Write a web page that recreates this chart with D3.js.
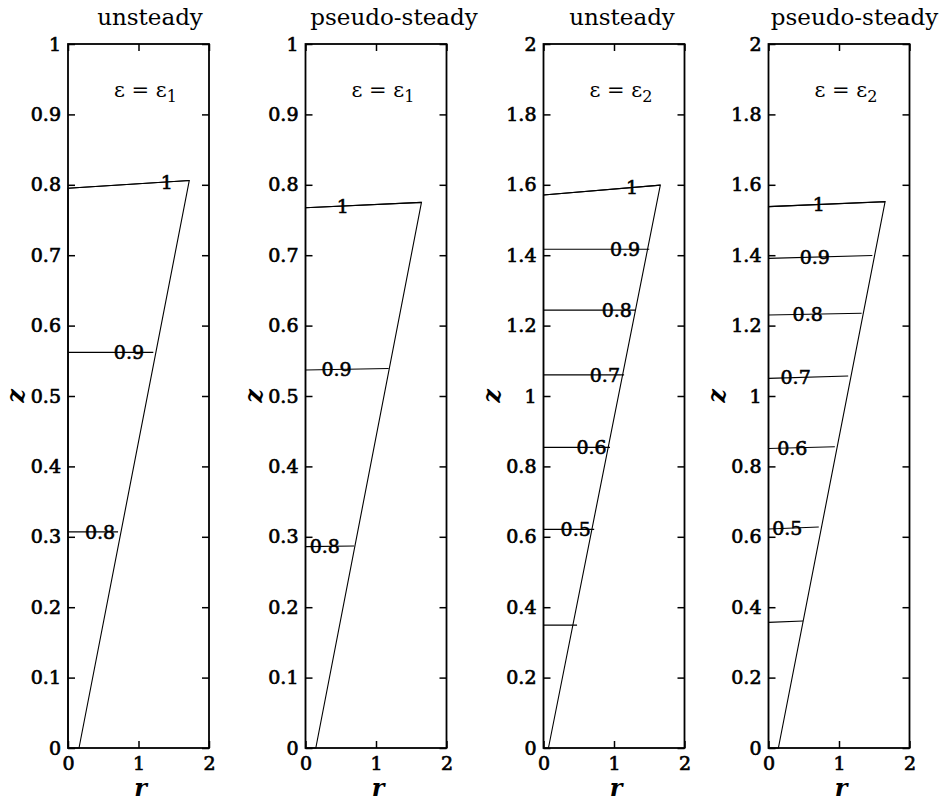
<!DOCTYPE html>
<html lang="en">
<head>
  <meta charset="utf-8">
  <script src="https://cdn.jsdelivr.net/npm/d3@7"></script>
  <style>
    body {
      margin: 0;
      background: #fff;
    }
    svg text {
      font-family: "DejaVu Serif", serif;
      fill: #000;
    }
    .tick text {
      font-size: 19px;
      stroke: #000;
      stroke-width: 0.7px;
    }
    .tick line {
      stroke: #000;
      stroke-width: 1.5px;
    }
    .frame {
      fill: none;
      stroke: #000;
      stroke-width: 1.8px;
    }
    .outline, .contour {
      fill: none;
      stroke: #000;
      stroke-width: 1.1px;
    }
    .clabel {
      font-size: 19px;
      stroke: #000;
      stroke-width: 0.6px;
    }
    .title {
      font-size: 23px;
    }
    .eps {
      font-size: 21px;
    }
    .axlabel {
      font-size: 24px;
      font-weight: bold;
      font-style: italic;
    }
  </style>
</head>
<body>
  <svg id="chart" width="942" height="802"></svg>
  <script>
    // panel headings
    var titles = ["unsteady", "pseudo-steady", "unsteady", "pseudo-steady"];
    var epsIndex = ["1", "1", "2", "2"];
    var zMax = [1, 1, 2, 2];

    // free surface / wall outline of each domain, [r, z]
    var outlineA = [[0, 0], [0.156, 0], [1.72, 0.806], [0, 0.795]];
    var outlineB = [[0, 0], [0.146, 0], [1.645, 0.775], [0, 0.7675]];
    var outlineC = [[0, 0], [0.07, 0], [1.657, 1.599], [0, 1.571]];
    var outlineD = [[0, 0], [0.14, 0], [1.654, 1.552], [0, 1.538]];

    // contour levels, their lines and where the label sits along r
    var contoursA = [
      {level: "1",   pts: [[0, 0.795], [1.72, 0.806]], labelR: 1.40},
      {level: "0.9", pts: [[0, 0.562], [1.21, 0.562]], labelR: 0.865},
      {level: "0.8", pts: [[0, 0.307], [0.71, 0.307]], labelR: 0.454}
    ];
    var contoursB = [
      {level: "1",   pts: [[0, 0.7675], [1.645, 0.775]], labelR: 0.53},
      {level: "0.9", pts: [[0, 0.537], [1.18, 0.539]], labelR: 0.44},
      {level: "0.8", pts: [[0, 0.286], [0.69, 0.287]], labelR: 0.274}
    ];
    var contoursC = [
      {level: "1",   pts: [[0, 1.571], [1.657, 1.599]], labelR: 1.257},
      {level: "0.9", pts: [[0, 1.417], [1.50, 1.417]], labelR: 1.157},
      {level: "0.8", pts: [[0, 1.244], [1.30, 1.244]], labelR: 1.039},
      {level: "0.7", pts: [[0, 1.060], [1.143, 1.060]], labelR: 0.871},
      {level: "0.6", pts: [[0, 0.854], [0.943, 0.854]], labelR: 0.681},
      {level: "0.5", pts: [[0, 0.621], [0.719, 0.621]], labelR: 0.457},
      {level: "",    pts: [[0, 0.349], [0.476, 0.349]], labelR: null}
    ];
    var contoursD = [
      {level: "1",   pts: [[0, 1.538], [1.654, 1.552]], labelR: 0.713},
      {level: "0.9", pts: [[0, 1.391], [1.473, 1.399]], labelR: 0.656},
      {level: "0.8", pts: [[0, 1.230], [1.321, 1.235]], labelR: 0.556},
      {level: "0.7", pts: [[0, 1.050], [1.130, 1.057]], labelR: 0.385},
      {level: "0.6", pts: [[0, 0.851], [0.941, 0.856]], labelR: 0.338},
      {level: "0.5", pts: [[0, 0.622], [0.713, 0.628]], labelR: 0.267},
      {level: "",    pts: [[0, 0.357], [0.490, 0.361]], labelR: null}
    ];

    var outlines = [outlineA, outlineB, outlineC, outlineD];
    var contours = [contoursA, contoursB, contoursC, contoursD];

    // layout
    var panelLeft = [68, 305.5, 543.5, 768.5];
    var titleCenter = [150, 394, 622, 854.5];
    var panelW = 141, plotTop = 44, plotBottom = 748;

    var svg = d3.select("#chart");

    function fmt(d) { return String(+d.toFixed(2)); }

    function clean(a) {
      a.select(".domain").remove();
      a.attr("font-family", null).attr("font-size", null);
    }

    panelLeft.forEach(function(left, i) {
      var x = d3.scaleLinear().domain([0, 2]).range([left, left + panelW]);
      var y = d3.scaleLinear().domain([0, zMax[i]]).range([plotBottom, plotTop]);
      var g = svg.append("g");

      var line = d3.line().x(function(d) { return x(d[0]); }).y(function(d) { return y(d[1]); });

      // contours
      contours[i].forEach(function(c) {
        g.append("path").attr("class", "contour").attr("d", line(c.pts));
      });
      g.append("path").attr("class", "outline").attr("d", line(outlines[i]) + "Z");

      // labels on the contour lines
      contours[i].filter(function(c) { return c.labelR != null; }).forEach(function(c) {
        var p0 = c.pts[0], p1 = c.pts[c.pts.length - 1];
        var z = p0[1] + (p1[1] - p0[1]) * (c.labelR - p0[0]) / (p1[0] - p0[0]);
        g.append("text")
          .attr("class", "clabel")
          .attr("x", x(c.labelR))
          .attr("y", y(z))
          .attr("dy", "0.36em")
          .attr("text-anchor", "middle")
          .text(c.level);
      });

      // axes, ticks pointing inward
      var yTicks = y.ticks(10);
      g.append("g")
        .attr("transform", "translate(" + left + ",0)")
        .call(d3.axisLeft(y).tickValues(yTicks).tickSize(-7).tickPadding(7).tickFormat(fmt))
        .call(clean);
      g.append("g")
        .attr("transform", "translate(" + (left + panelW) + ",0)")
        .call(d3.axisRight(y).tickValues(yTicks).tickSize(-7).tickFormat(""))
        .call(clean);
      g.append("g")
        .attr("transform", "translate(0," + plotBottom + ")")
        .call(d3.axisBottom(x).tickValues([0, 1, 2]).tickSize(-7).tickPadding(9).tickFormat(fmt))
        .call(clean);
      g.append("g")
        .attr("transform", "translate(0," + plotTop + ")")
        .call(d3.axisTop(x).tickValues([0, 1, 2]).tickSize(-7).tickFormat(""))
        .call(clean);

      g.append("rect")
        .attr("class", "frame")
        .attr("x", left).attr("y", plotTop)
        .attr("width", panelW).attr("height", plotBottom - plotTop);

      // titles and annotations
      g.append("text")
        .attr("class", "title")
        .attr("x", titleCenter[i]).attr("y", 25)
        .attr("text-anchor", "middle")
        .text(titles[i]);

      var eps = g.append("text")
        .attr("class", "eps")
        .attr("x", left + 46).attr("y", 97);
      eps.append("tspan").text("\u03b5 = \u03b5");
      eps.append("tspan").attr("dy", 5).attr("font-size", 16).text(epsIndex[i]);

      g.append("text")
        .attr("class", "axlabel")
        .attr("x", left + panelW / 2 + 2).attr("y", 796)
        .attr("text-anchor", "middle")
        .text("r");

      g.append("text")
        .attr("class", "axlabel")
        .attr("transform", "translate(" + (left - 44) + "," + (plotTop + plotBottom) / 2 + ")rotate(-90)")
        .attr("text-anchor", "middle")
        .text("z");
    });
  </script>
</body>
</html>
